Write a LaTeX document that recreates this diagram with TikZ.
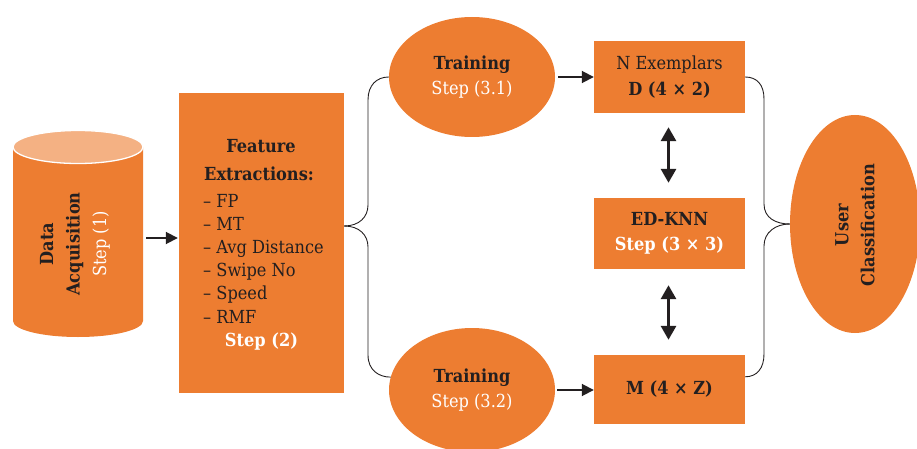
\documentclass[tikz,border=0pt]{standalone}
\usepackage{fontspec}
\setmainfont{DejaVu Serif Condensed}
\usetikzlibrary{shapes.geometric,arrows.meta,calc}
\definecolor{org}{HTML}{ED7D31}
\definecolor{orgl}{HTML}{F4B183}
\definecolor{ink}{HTML}{231F20}
\newcommand{\fsz}{\fontsize{18}{25.5}\selectfont}
\begin{document}
\begin{tikzpicture}[x=1pt,y=-1pt,
  font=\fsz, text=ink,
  box/.style={rectangle, fill=org, inner sep=0pt, align=center},
  oval/.style={ellipse, fill=org, inner sep=0pt, align=center},
  txt/.style={inner sep=0pt, align=center},
  bftxt/.style={txt, font=\fsz\bfseries},
  arr/.style={-{Triangle[length=12pt,width=12pt]}, line width=1.8pt, draw=ink},
  darr/.style={{Triangle[length=14pt,width=15pt]}-{Triangle[length=14pt,width=15pt]}, line width=3pt, draw=ink},
  brace/.style={draw=ink, line width=0.9pt}]
\useasboundingbox (0,0) rectangle (917,449);
% cylinder
\fill[org] (13,147) -- (13,321) arc[start angle=180,end angle=0,x radius=65,y radius=16] -- (143,147) -- cycle;
\draw[white, line width=1.3pt, fill=orgl] (78,147) ellipse[x radius=65, y radius=16.5];
\node[inner sep=0pt, minimum width=130, minimum height=190] (cylbody) at (78,242) {};
\node[txt, rotate=90, font=\fontsize{18}{26.5}\selectfont] (cyltext) at (75,244)
  {\textbf{Data}\\\textbf{Acquisition}\\\textcolor{white}{Step (1)}};
% feature box
\node[box, minimum width=165, minimum height=300] (feat) at (261.5,243) {};
\node[bftxt, anchor=base] (ft1) at (261,153) {Feature};
\node[bftxt, anchor=base] (ft2) at (259,180) {Extractions:};
\foreach \t [count=\i] in {FP, MT, Avg Distance, Swipe No, Speed, RMF}
  \node[txt, anchor=base west] (fl\i) at (203,{207+23.2*(\i-1)}) {\textendash\ \t};
\node[bftxt, anchor=base, text=white] (fstep) at (261.5,346) {Step (2)};
% training ellipses
\node[oval, minimum width=166, minimum height=120] (tr1) at (472,77)
  {\textbf{Training}\\\textcolor{white}{Step (3.1)}};
\node[oval, minimum width=166, minimum height=124] (tr2) at (472,390)
  {\textbf{Training}\\\textcolor{white}{Step (3.2)}};
% right boxes
\node[box, minimum width=151, minimum height=72] (D) at (669.5,77)
  {N Exemplars\\\textbf{D (4 × 2)}};
\node[box, minimum width=151, minimum height=71] (ED) at (669.5,233.5)
  {\textbf{ED-KNN}\\\textcolor{white}{\textbf{Step (3 × 3)}}};
\node[box, minimum width=151, minimum height=69] (M) at (669.5,389.5)
  {\textbf{M (4 × Z)}};
% user classification
\node[oval, minimum width=130, minimum height=218] (uc) at (855,224) {};
\node[txt, rotate=90, font=\fontsize{18}{26}\selectfont\bfseries] (uctext) at (855,225)
  {User\\Classification};
% arrows
\draw[arr] ($(cylbody.east)+(3,-4)$) -- ($(feat.west)+(-1,-5)$);
\draw[arr] ([xshift=3pt]tr1.east) -- (D.west);
\draw[arr] ([xshift=2pt]tr2.east) -- (tr2.east -| M.west);
\draw[darr] ($(D.south)+(-1,14)$) -- ($(ED.north)+(-1,-15)$);
\draw[darr] ($(ED.south)+(-1,16)$) -- ($(M.north)+(-1,-15)$);
% braces
\coordinate (ftip) at ($(feat.east)+(0,-17)$);
\draw[brace] (ftip) .. controls +(15,0) and +(0,12) .. (368,205) -- (368,100)
  .. controls +(0,-15) and +(-12,0) .. (tr1.west);
\draw[brace] (ftip) .. controls +(15,0) and +(0,-12) .. (368,247) -- (368,355)
  .. controls +(0,15) and +(-12,0) .. (tr2.171);
\coordinate (mend) at ($(M.north east)+(0,22)$);
\draw[brace] (D.east) .. controls +(12,0) and +(0,-14) .. (764,99) -- (764,204)
  .. controls +(0,14) and +(-14,0) .. (uc.west);
\draw[brace] (mend) .. controls +(12,0) and +(0,14) .. (764,354) -- (764,246)
  .. controls +(0,-14) and +(-14,0) .. (uc.west);
\end{tikzpicture}
\end{document}
